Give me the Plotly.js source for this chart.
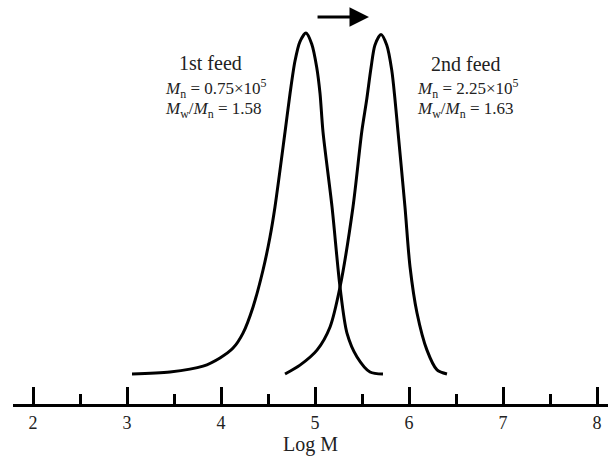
<!DOCTYPE html>
<html>
<head>
<meta charset="utf-8">
<script src="https://cdn.plot.ly/plotly-3.0.1.min.js"></script>
<style>html,body{margin:0;padding:0;background:#fff;}#chart{width:608px;height:457px;}</style>
</head>
<body>
<div id="chart"></div>
<script>
// 1st feed GPC trace (Log M vs normalized signal)
const feed1LogM = [3.053, 3.457, 3.809, 3.989, 4.128, 4.234, 4.340, 4.447, 4.521, 4.574, 4.681, 4.734, 4.787, 4.840, 4.904, 4.965, 5.018, 5.053, 5.085, 5.181, 5.266, 5.340, 5.447, 5.585, 5.723];
const feed1Signal = [0.0, 0.006, 0.023, 0.047, 0.076, 0.120, 0.196, 0.305, 0.402, 0.49, 0.710, 0.822, 0.918, 0.975, 1.0, 0.968, 0.900, 0.824, 0.710, 0.490, 0.255, 0.120, 0.050, 0.006, 0.0];
// 2nd feed GPC trace
const feed2LogM = [4.681, 4.840, 5.021, 5.160, 5.266, 5.404, 5.497, 5.550, 5.596, 5.638, 5.702, 5.763, 5.816, 5.851, 5.883, 5.957, 6.011, 6.085, 6.191, 6.298, 6.404];
const feed2Signal = [0.0, 0.026, 0.070, 0.138, 0.255, 0.49, 0.710, 0.805, 0.898, 0.965, 0.996, 0.965, 0.892, 0.805, 0.710, 0.490, 0.314, 0.179, 0.070, 0.012, 0.0];
// Axis ticks
const tickVals = [2, 3, 4, 5, 6, 7, 8];
const tickText = ['2', '3', '4', '5', '6', '7', '8'];

const serif = 'Liberation Serif, Times New Roman, serif';
const lineStyle = {color: '#000', width: 3, shape: 'spline', smoothing: 0.8};

const traces = [
  {x: feed1LogM, y: feed1Signal, mode: 'lines', line: lineStyle, hoverinfo: 'skip', name: '1st feed'},
  {x: feed2LogM, y: feed2Signal, mode: 'lines', line: lineStyle, hoverinfo: 'skip', name: '2nd feed'}
];

const txtFont = {family: serif, size: 17, color: '#222'};
const headFont = {family: serif, size: 20, color: '#222'};
function note(x, y, text, anchor, font) {
  return {x: x, y: y, xref: 'x', yref: 'y', text: text, showarrow: false, xanchor: anchor, yanchor: 'middle', align: 'left', font: font};
}
const layout = {
  width: 608, height: 457,
  margin: {l: 13, r: 0, t: 0, b: 53},
  paper_bgcolor: '#fff', plot_bgcolor: '#fff',
  showlegend: false,
  xaxis: {
    range: [1.787, 8.117],
    tickvals: tickVals, ticktext: tickText,
    ticks: 'inside', ticklen: 17, tickwidth: 3, tickcolor: '#000',
    minor: {dtick: 0.5, tick0: 2.5, ticks: 'inside', ticklen: 10, tickwidth: 3, tickcolor: '#000'},
    showline: true, linewidth: 3, linecolor: '#000',
    showgrid: false, zeroline: false,
    tickfont: {family: serif, size: 18, color: '#222'},
    title: {text: 'Log M', font: {family: serif, size: 20, color: '#222'}, standoff: 2}
  },
  yaxis: {range: [-0.088, 1.097], visible: false, showgrid: false, zeroline: false},
  annotations: [
    note(3.883, 0.912, '1st feed', 'center', headFont),
    note(3.383, 0.838, '<i>M</i><sub>n</sub> = 0.75×10<sup>5</sup>', 'left', txtFont),
    note(3.383, 0.774, '<i>M</i><sub>w</sub>/<i>M</i><sub>n</sub> = 1.58', 'left', txtFont),
    note(6.596, 0.909, '2nd feed', 'center', headFont),
    note(6.064, 0.838, '<i>M</i><sub>n</sub> = 2.25×10<sup>5</sup>', 'left', txtFont),
    note(6.064, 0.774, '<i>M</i><sub>w</sub>/<i>M</i><sub>n</sub> = 1.63', 'left', txtFont),
    {x: 5.574, y: 1.047, ax: 5.011, ay: 1.047, xref: 'x', yref: 'y', axref: 'x', ayref: 'y', text: '', showarrow: true, arrowhead: 2, arrowsize: 1.3, arrowwidth: 3, arrowcolor: '#000'}
  ]
};

Plotly.newPlot('chart', traces, layout, {displayModeBar: false, staticPlot: true});
</script>
</body>
</html>
